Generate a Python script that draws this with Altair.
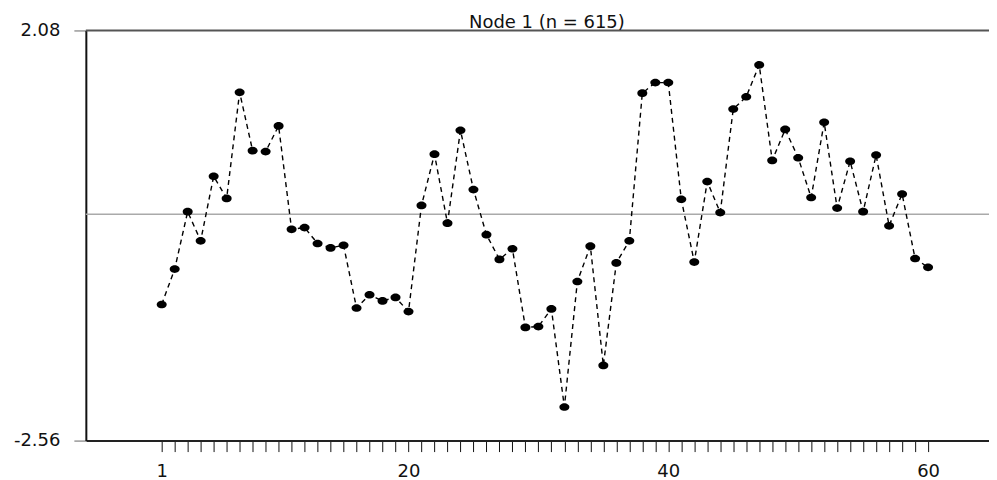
import altair as alt
import pandas as pd

# ---- data ----
idx = list(range(1, 61))
values = [-1.02, -0.62, 0.03, -0.30, 0.43, 0.18, 1.38, 0.72, 0.71, 1.00,
          -0.17, -0.15, -0.33, -0.38, -0.35, -1.06, -0.91, -0.98, -0.94, -1.10,
          0.10, 0.68, -0.10, 0.95, 0.28, -0.23, -0.51, -0.39, -1.28, -1.27,
          -1.07, -2.18, -0.76, -0.36, -1.71, -0.55, -0.30, 1.37, 1.49, 1.49,
          0.17, -0.54, 0.37, 0.02, 1.19, 1.33, 1.69, 0.61, 0.96, 0.64,
          0.19, 1.04, 0.07, 0.60, 0.03, 0.67, -0.13, 0.23, -0.50, -0.60]
x_labels = [1, 20, 40, 60]
y_labels = [2.08, -2.56]
title_text = "Node 1 (n = 615)"
ref_level = [0.0]

FONT = "DejaVu Sans"

df = pd.DataFrame({"t": idx, "v": values})

x_scale = alt.Scale(domain=[-4.84, 64.69], nice=False, zero=False)
y_scale = alt.Scale(domain=[y_labels[1], y_labels[0]], nice=False, zero=False)

label_expr = "indexof([" + ",".join(str(v) for v in x_labels) + "], datum.value) >= 0 ? format(datum.value, 'd') : ''"
y_label_expr = "datum.value < 0 ? '-' + format(-datum.value, '.2f') : format(datum.value, '.2f')"

x_enc = alt.X("t:Q", scale=x_scale, axis=alt.Axis(
    values=idx, tickCount=200, format="d", labelExpr=label_expr, grid=False, title=None,
    domainColor="#222222", domainWidth=2, tickColor="#111111", tickSize=11,
    tickWidth=1, labelFont=FONT, labelFontSize=18, labelColor="#111111",
    labelPadding=11, labelOverlap=False, labelFlush=False))
y_enc = alt.Y("v:Q", scale=y_scale, axis=alt.Axis(
    values=y_labels, tickCount=10, labelExpr=y_label_expr, grid=False, title=None,
    domainColor="#111111", domainWidth=2, tickColor="#999999", tickSize=12,
    tickWidth=1.5, labelFont=FONT, labelFontSize=18, labelColor="#111111",
    labelPadding=14, labelOverlap=False, labelFlush=False))

line = alt.Chart(df).mark_line(color="black", strokeDash=[5, 4], strokeWidth=1.4).encode(
    x=x_enc, y=y_enc)

ellipse = "M-1,0A1,0.77,0,1,1,1,0A1,0.77,0,1,1,-1,0Z"
pts = alt.Chart(df).mark_point(filled=True, color="black", opacity=1, size=100,
                               shape=ellipse).encode(x="t:Q", y="v:Q")

zero = alt.Chart(pd.DataFrame({"y": ref_level})).mark_rule(
    color="#aaaaaa", strokeWidth=1.5).encode(y=alt.Y("y:Q", scale=y_scale))

top = alt.Chart(pd.DataFrame({"y": [y_labels[0]]})).mark_rule(
    color="#555555", strokeWidth=2).encode(y=alt.Y("y:Q", scale=y_scale))

ttl = alt.Chart(pd.DataFrame({"s": [title_text]})).mark_text(
    font=FONT, fontSize=18, align="center", baseline="alphabetic", color="#111111"
).encode(x=alt.value(462), y=alt.value(-2), text="s:N")

chart = alt.layer(zero, top, line, pts, ttl).properties(
    width=905, height=411,
    autosize=alt.AutoSizeParams(type="none"),
    padding={"left": 78, "top": 22, "right": 0, "bottom": 40},
    background="white",
).configure_view(stroke=None)

chart.save("out.html", embed_options={"renderer": "svg", "actions": False})
